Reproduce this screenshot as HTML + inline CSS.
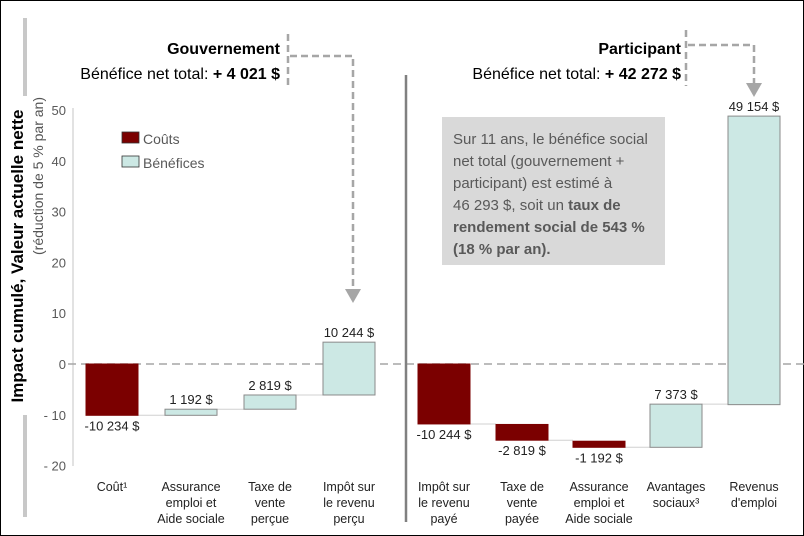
<!DOCTYPE html>
<html><head><meta charset="utf-8"><style>
body{margin:0;background:#fff}
svg{display:block;font-family:"Liberation Sans",sans-serif}
</style></head><body>
<svg id="c" width="804" height="536" viewBox="0 0 804 536" xmlns="http://www.w3.org/2000/svg">
<rect x="0.5" y="0.5" width="803" height="535" fill="#fff" stroke="#000"/>
<rect x="23" y="18" width="4" height="78" fill="#c8c8c8"/>
<rect x="23" y="415" width="4" height="102" fill="#c8c8c8"/>
<text transform="translate(23,256) rotate(-90)" text-anchor="middle" font-size="17" font-weight="bold" fill="#000">Impact cumulé, Valeur actuelle nette</text>
<text transform="translate(43,176) rotate(-90)" text-anchor="middle" font-size="14" fill="#555">(réduction de 5 % par an)</text>
<g id="yaxis"></g>
<line x1="406" y1="75" x2="406" y2="522" stroke="#808080" stroke-width="2.5"/>
<g id="bars"></g>
<text x="280" y="54" text-anchor="end" font-size="16" font-weight="bold">Gouvernement</text>
<text x="280" y="79" text-anchor="end" font-size="16">Bénéfice net total: <tspan font-weight="bold">+ 4 021 $</tspan></text>
<text x="681" y="54" text-anchor="end" font-size="16" font-weight="bold">Participant</text>
<text x="681" y="79" text-anchor="end" font-size="16">Bénéfice net total: <tspan font-weight="bold">+ 42 272 $</tspan></text>
<g fill="none" stroke="#a6a6a6" stroke-width="2.5" stroke-dasharray="7,4">
<line x1="288" y1="34" x2="288" y2="88"/><polyline points="290,56 353,56 353,290"/></g>
<polygon points="345,289 361,289 353,303" fill="#a6a6a6"/>
<g fill="none" stroke="#a6a6a6" stroke-width="2.5" stroke-dasharray="7,4">
<line x1="686" y1="30" x2="686" y2="86"/><polyline points="688,45 754,45 754,84"/></g>
<polygon points="746,83 762,83 754,97" fill="#a6a6a6"/>
<rect x="122" y="132" width="17" height="11" fill="#7b0000" stroke="#333" stroke-width="0.8"/>
<text x="143" y="144" font-size="14" fill="#595959">Coûts</text>
<rect x="122" y="156" width="17" height="11" fill="#cce8e4" stroke="#333" stroke-width="0.8"/>
<text x="143" y="168" font-size="14" fill="#595959">Bénéfices</text>
<rect x="442" y="117" width="223" height="148" fill="#d9d9d9"/>
<g font-size="15" fill="#595959">
<text x="453" y="144">Sur 11 ans, le bénéfice social</text>
<text x="453" y="166">net total (gouvernement  +</text>
<text x="453" y="188">participant) est estimé à</text>
<text x="453" y="210">46 293 $, soit un <tspan font-weight="bold">taux de</tspan></text>
<text x="453" y="232" font-weight="bold">rendement social de 543 %</text>
<text x="453" y="254" font-weight="bold">(18 % par an).</text>
</g>
</svg>
<script>
const yTicks=[50,40,30,20,10,0,-10,-20];
const yTickLabels=["50","40","30","20","10","0","- 10","- 20"];
const categories=[["Coût¹"],["Assurance","emploi et","Aide sociale"],["Taxe de","vente","perçue"],["Impôt sur","le revenu","perçu"],["Impôt sur","le revenu","payé"],["Taxe de","vente","payée"],["Assurance","emploi et","Aide sociale"],["Avantages","sociaux³"],["Revenus","d'emploi"]];
const barStart=[0,-10.1,-8.9,-6.1,0,-11.9,-15.2,-16.4,-8.0];
const barEnd=[-10.1,-8.9,-6.1,4.3,-11.8,-15.0,-16.4,-7.9,48.8];
const valueLabels=["-10 234 $","1 192 $","2 819 $","10 244 $","-10 244 $","-2 819 $","-1 192 $","7 373 $","49 154 $"];
const barCenters=[112,191,270,349,444,522,599,676,754];
const NS="http://www.w3.org/2000/svg";
const y=v=>364-v*5.08;
const bw=52;
function mk(t,a,p){const e=document.createElementNS(NS,t);for(const k in a)e.setAttribute(k,a[k]);p.appendChild(e);return e;}
const ya=document.getElementById('yaxis');
const ax=mk('line',{x1:73,y1:108,x2:73,y2:466,stroke:'#d9d9d9','stroke-width':1.5},ya);


yTicks.forEach((t,i)=>{const tx=mk('text',{x:66,y:y(t)+5,'text-anchor':'end','font-size':13,fill:'#595959'},ya);tx.textContent=yTickLabels[i];

});
const zl=mk('line',{x1:68,y1:y(0),x2:804,y2:y(0),stroke:'#a6a6a6','stroke-width':1.5,'stroke-dasharray':'8,5'},ya);


const g=document.getElementById('bars');
barStart.forEach((s,i)=>{
 const e=barEnd[i],cx=barCenters[i],cost=e<s;
 if(i!==3&&i!==8){const n=barEnd[i],nx=barCenters[i+1];
  const cl=mk('line',{x1:cx+bw/2,y1:y(n),x2:nx-bw/2,y2:y(n),stroke:'#d0d0d0','stroke-width':1},g);
  
  }
 const top=y(Math.max(s,e)),bot=y(Math.min(s,e));
 const r=mk('rect',{x:cx-bw/2,y:top,width:bw,height:Math.max(bot-top,1),fill:cost?'#7b0000':'#cce8e4',stroke:cost?'#7b0000':'#8a8a8a','stroke-width':1},g);
 
 
 const lt=mk('text',{x:cx,y:cost?bot+15:top-5,'text-anchor':'middle','font-size':13,fill:'#222'},g);
 lt.textContent=valueLabels[i];
 
 
 categories[i].forEach((l,j)=>{const c=mk('text',{x:cx,y:491+j*16,'text-anchor':'middle','font-size':12.5,fill:'#222'},g);c.textContent=l;
  
  });
});
</script>
</body></html>
